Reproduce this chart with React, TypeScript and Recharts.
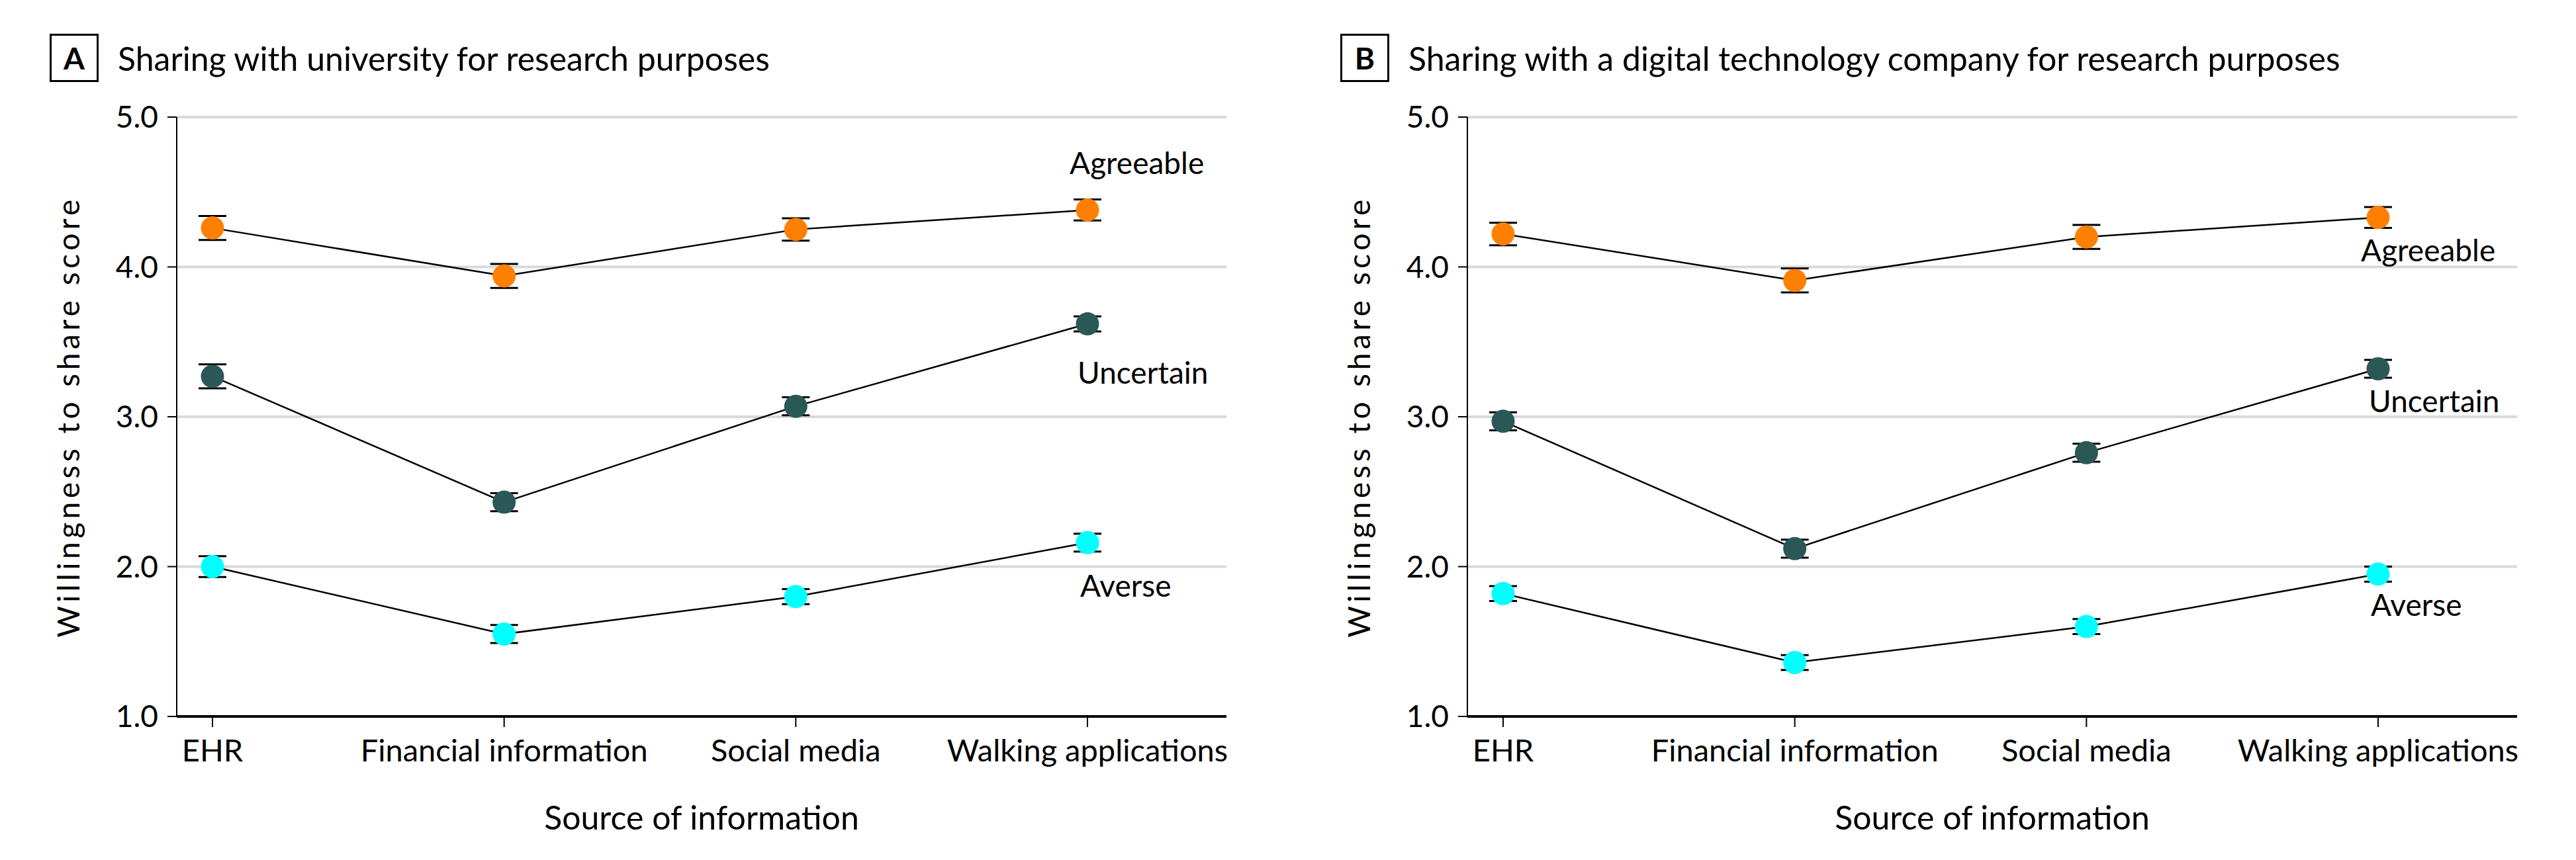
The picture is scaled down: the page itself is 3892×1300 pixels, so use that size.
import { LineChart, Line, XAxis, YAxis, CartesianGrid, ErrorBar } from 'recharts'

const categories = ['EHR', 'Financial information', 'Social media', 'Walking applications']
const yTicks = [1, 2, 3, 4, 5]

// panel A: university
const agreeableA = [4.26, 3.94, 4.25, 4.38]
const agreeableErrA = [0.08, 0.08, 0.075, 0.07]
const uncertainA = [3.27, 2.43, 3.07, 3.62]
const uncertainErrA = [0.08, 0.06, 0.06, 0.05]
const averseA = [2.0, 1.55, 1.8, 2.16]
const averseErrA = [0.07, 0.06, 0.05, 0.06]

// panel B: digital technology company
const agreeableB = [4.22, 3.91, 4.2, 4.33]
const agreeableErrB = [0.075, 0.08, 0.08, 0.07]
const uncertainB = [2.97, 2.12, 2.76, 3.32]
const uncertainErrB = [0.06, 0.06, 0.06, 0.06]
const averseB = [1.82, 1.36, 1.6, 1.95]
const averseErrB = [0.05, 0.05, 0.05, 0.05]

const COLORS = {
    agreeable: '#ff8000',
    uncertain: '#2a5856',
    averse: '#00ffff',
}

const FONT = 'Lato, sans-serif'

function buildRows(ag: number[], agE: number[], un: number[], unE: number[], av: number[], avE: number[]) {
    return categories.map((name, i) => ({
        name,
        agreeable: ag[i],
        agreeableErr: agE[i],
        uncertain: un[i],
        uncertainErr: unE[i],
        averse: av[i],
        averseErr: avE[i],
    }))
}

const rowsA = buildRows(agreeableA, agreeableErrA, uncertainA, uncertainErrA, averseA, averseErrA)
const rowsB = buildRows(agreeableB, agreeableErrB, uncertainB, uncertainErrB, averseB, averseErrB)

type Offsets = { agreeable: [number, number]; uncertain: [number, number]; averse: [number, number] }

const offsetsA: Offsets = { agreeable: [-27, -54], uncertain: [-15, 90], averse: [-11, 82] }
const offsetsB: Offsets = { agreeable: [-26, 66], uncertain: [-14, 65], averse: [-11, 63] }

const SERIES: { key: 'agreeable' | 'uncertain' | 'averse'; name: string }[] = [
    { key: 'agreeable', name: 'Agreeable' },
    { key: 'uncertain', name: 'Uncertain' },
    { key: 'averse', name: 'Averse' },
]

function endLabel(text: string, dx: number, dy: number) {
    return (props: any) => {
        if (props.index !== categories.length - 1) return null
        return (
            <text x={props.x + dx} y={props.y + dy} fontSize={46} fontFamily={FONT} fill="#000" textAnchor="start">
                {text}
            </text>
        )
    }
}

interface PanelProps {
    left: number
    letter: string
    title: string
    rows: any[]
    offsets: Offsets
}

function Panel({ left, letter, title, rows, offsets }: PanelProps) {
    return (
        <div style={{ position: 'absolute', left, top: 0, width: 1946, height: 1300 }}>
            <div
                style={{
                    position: 'absolute', left: 75, top: 51, width: 68, height: 67,
                    border: '3px solid #000', display: 'flex', alignItems: 'center', justifyContent: 'center',
                    fontFamily: FONT, fontWeight: 700, fontSize: 46, lineHeight: 1,
                }}
            >
                {letter}
            </div>
            <div
                style={{
                    position: 'absolute', left: 178, top: 56, fontFamily: FONT, fontSize: 50,
                    lineHeight: '64px', whiteSpace: 'nowrap', color: '#000',
                }}
            >
                {title}
            </div>
            <LineChart width={1946} height={1300} data={rows} margin={{ top: 177, right: 93, bottom: 17, left: 67 }}>
                <CartesianGrid vertical={false} stroke="#d9d9d9" strokeWidth={4} />
                <XAxis
                    dataKey="name"
                    padding={{ left: 54, right: 210 }}
                    height={200}
                    tickSize={16}
                    tickMargin={19}
                    axisLine={{ stroke: '#000', strokeWidth: 4 }}
                    tickLine={{ stroke: '#000', strokeWidth: 2 }}
                    tick={{ fill: '#000', fontSize: 47, fontFamily: FONT }}
                    interval={0}
                    label={{ value: 'Source of information', position: 'insideBottom', offset: 29, fill: '#000', fontSize: 50, fontFamily: FONT }}
                />
                <YAxis
                    domain={[1, 5]}
                    ticks={yTicks}
                    width={200}
                    tickSize={14}
                    tickMargin={14}
                    tickFormatter={(v: number) => v.toFixed(1)}
                    axisLine={{ stroke: '#000', strokeWidth: 2 }}
                    tickLine={{ stroke: '#000', strokeWidth: 2 }}
                    tick={{ fill: '#000', fontSize: 46, fontFamily: FONT }}
                    label={{
                        value: 'Willingness to share score', angle: -90, position: 'insideLeft', offset: 37,
                        style: { textAnchor: 'middle', fontSize: 46, fontFamily: FONT, fill: '#000', letterSpacing: 5.5 },
                    }}
                />
                {SERIES.map(s => (
                    <Line
                        key={s.key}
                        dataKey={s.key}
                        stroke="#000"
                        strokeWidth={2.5}
                        isAnimationActive={false}
                        dot={{ r: 17.5, fill: COLORS[s.key], stroke: COLORS[s.key], strokeWidth: 0 }}
                        activeDot={false}
                        label={endLabel(s.name, offsets[s.key][0], offsets[s.key][1])}
                    >
                        <ErrorBar dataKey={`${s.key}Err`} direction="y" width={21} stroke="#000" strokeWidth={3} />
                    </Line>
                ))}
            </LineChart>
        </div>
    )
}

export default function App() {
    return (
        <div style={{ position: 'absolute', left: 0, top: 0, width: 3892, height: 1300, background: '#fff' }}>
            <Panel left={0} letter="A" title="Sharing with university for research purposes" rows={rowsA} offsets={offsetsA} />
            <Panel
                left={1950}
                letter="B"
                title="Sharing with a digital technology company for research purposes"
                rows={rowsB}
                offsets={offsetsB}
            />
        </div>
    )
}
